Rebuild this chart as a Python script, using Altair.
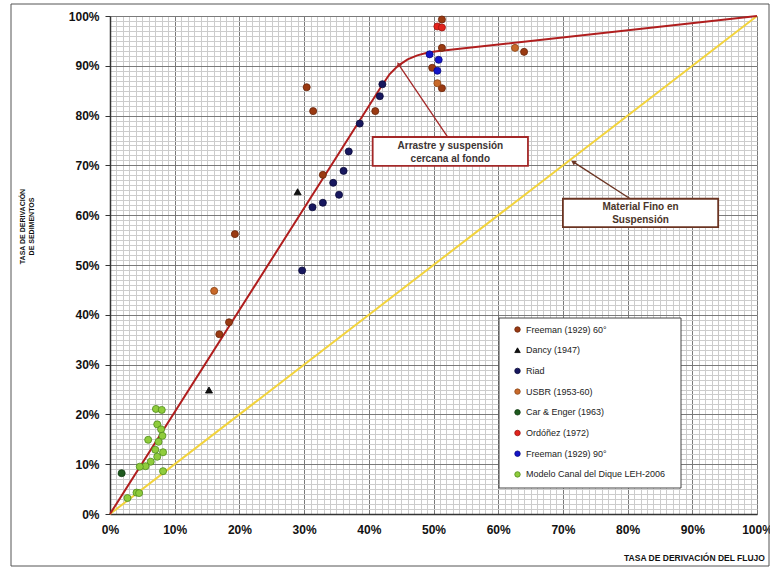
import math
import altair as alt
import pandas as pd

FONT = "Liberation Sans"

# ---- observed diversions (% of flow diverted, % of sediment diverted) ----
series_names = [
    "Freeman (1929) 60°",
    "Dancy (1947)",
    "Riad",
    "USBR (1953-60)",
    "Car & Enger (1963)",
    "Ordóñez (1972)",
    "Freeman (1929) 90°",
    "Modelo Canal del Dique LEH-2006",
]
series_fill = ["#9a3a12", "#111111", "#17175e", "#c8692a", "#1e5a1e", "#e2231c", "#1414c8", "#8fcc3c"]
series_stroke = ["#6a250a", "#000000", "#0a0a38", "#8a4516", "#103a10", "#9a1410", "#0a0a80", "#4f8c1c"]
series_shape = ["circle", "triangle-up", "circle", "circle", "circle", "circle", "circle", "circle"]

freeman60_x = [30.4, 32.9, 41.0, 19.3, 18.4, 16.9, 51.3, 51.3, 49.8, 51.3, 64.0, 31.4]
freeman60_y = [85.7, 68.1, 80.9, 56.2, 38.5, 36.1, 99.3, 93.6, 89.6, 85.5, 92.8, 80.9]
dancy_x = [15.3, 29.0]
dancy_y = [24.9, 64.7]
riad_x = [42.1, 41.7, 38.6, 36.9, 36.1, 34.5, 35.4, 32.9, 31.3, 29.7]
riad_y = [86.3, 83.9, 78.4, 72.8, 68.9, 66.5, 64.1, 62.5, 61.6, 48.9]
usbr_x = [16.1, 50.6, 62.6]
usbr_y = [44.8, 86.5, 93.6]
car_enger_x = [1.8]
car_enger_y = [8.2]
ordonez_x = [50.6, 51.3]
ordonez_y = [97.9, 97.7]
freeman90_x = [49.4, 50.8, 50.6]
freeman90_y = [92.3, 91.2, 89.0]
modelo_x = [7.1, 8.0, 7.3, 7.9, 8.1, 5.9, 7.5, 7.0, 8.2, 7.3, 6.3, 5.5, 4.6, 8.2, 4.1, 4.5, 2.7]
modelo_y = [21.1, 20.9, 18.0, 17.0, 15.7, 14.9, 14.5, 12.9, 12.4, 11.5, 10.5, 9.6, 9.5, 8.6, 4.3, 4.2, 3.2]

# ---- fitted curve (bed load + near-bed suspension) and 1:1 line (fine material) ----
curve_x = [0, 42.0, 43.2, 44.5, 46.0, 47.5, 49.0, 50.5, 100]
curve_y = [0, 86.0, 88.3, 90.0, 91.3, 92.1, 92.6, 92.9, 100]
fine_x = [0, 100]
fine_y = [0, 100]

# ---- annotation boxes ----
notes_text = ["Arrastre y suspensión\ncercana al fondo", "Material Fino en\nSuspensión"]
notes_cx = [52.6, 82.0]
notes_cy = [73.9, 61.6]   # first text line
notes_x1 = [40.6, 70.0]
notes_x2 = [64.6, 94.0]
notes_y1 = [69.9, 57.6]
notes_y2 = [75.7, 63.3]
notes_color = ["#a32828", "#6b3422"]
notes_text_color = ["#3c3434", "#4a3428"]
arrow_start_x = [52.2, 80.4]
arrow_start_y = [75.7, 63.3]
arrow_tip_x = [44.6, 71.6]
arrow_tip_y = [90.3, 70.7]

W, H = 647, 498

rows = []
for name, xs_, ys_ in zip(
    series_names,
    [freeman60_x, dancy_x, riad_x, usbr_x, car_enger_x, ordonez_x, freeman90_x, modelo_x],
    [freeman60_y, dancy_y, riad_y, usbr_y, car_enger_y, ordonez_y, freeman90_y, modelo_y],
):
    for a, b in zip(xs_, ys_):
        rows.append({"serie": name, "x": a, "y": b})
points_df = pd.DataFrame(rows)

curve_df = pd.DataFrame({"x": curve_x, "y": curve_y})
fine_df = pd.DataFrame({"x": fine_x, "y": fine_y})

angles = []
for sx, sy, tx, ty in zip(arrow_start_x, arrow_start_y, arrow_tip_x, arrow_tip_y):
    dxp = (tx - sx) * W / 100.0
    dyp = -(ty - sy) * H / 100.0
    angles.append(math.degrees(math.atan2(dxp, -dyp)) % 360)

notes_df = pd.DataFrame({
    "text": notes_text, "cx": notes_cx, "cy": notes_cy,
    "x1": notes_x1, "x2": notes_x2, "y1": notes_y1, "y2": notes_y2,
    "color": notes_color, "tcolor": notes_text_color,
    "sx": arrow_start_x, "sy": arrow_start_y, "tx": arrow_tip_x, "ty": arrow_tip_y,
    "angle": angles,
})

xscale = alt.Scale(domain=[0, 100], nice=False, zero=False)
yscale = alt.Scale(domain=[0, 100], nice=False, zero=False)
minor_vals = list(range(0, 101))
major_vals = list(range(0, 101, 10))

# 1:1 line, carrying the fine 1 % grid
fine_line = alt.Chart(fine_df).mark_line(color="#f2d33c", strokeWidth=2).encode(
    x=alt.X("x:Q", scale=xscale, axis=alt.Axis(
        orient="bottom", values=minor_vals, grid=True, gridColor="#cccccc", gridWidth=1,
        labels=False, ticks=False, domain=False, title=None)),
    y=alt.Y("y:Q", scale=yscale, axis=alt.Axis(
        orient="left", values=minor_vals, grid=True, gridColor="#cccccc", gridWidth=1,
        labels=False, ticks=False, domain=False, title=None)),
)

# fitted curve, carrying the 10 % grid, labels and titles
curve = alt.Chart(curve_df).mark_line(color="#b01e1e", strokeWidth=2).encode(
    x=alt.X("x:Q", scale=xscale, axis=alt.Axis(
        orient="bottom", values=major_vals, grid=True, gridColor="#7a7a7a", gridWidth=1,
        labelExpr="datum.value + '%'", labelFont=FONT, labelFontSize=12, labelFontWeight="bold",
        labelColor="#111111", labelFlush=False, labelPadding=10, ticks=False,
        domainColor="#333333", domainWidth=1.5,
        title="TASA DE DERIVACIÓN DEL FLUJO", titleFont=FONT, titleFontSize=8.5,
        titleFontWeight="bold", titleColor="#111111", titleX=584, titleY=43,
        titleAlign="center", titleBaseline="middle")),
    y=alt.Y("y:Q", scale=yscale, axis=alt.Axis(
        orient="left", values=major_vals, grid=True, gridColor="#7a7a7a", gridWidth=1,
        labelExpr="datum.value + '%'", labelFont=FONT, labelFontSize=12, labelFontWeight="bold",
        labelColor="#111111", labelPadding=6, ticks=True, tickSize=5, tickColor="#333333",
        domainColor="#333333", domainWidth=1.5,
        title=["TASA DE DERIVACIÓN", "DE SEDIMENTOS"], titleFont=FONT, titleFontSize=7,
        titleFontWeight="bold", titleColor="#111111", titleAngle=270, titleX=-92, titleY=210,
        titleAlign="center", titleBaseline="top", titleLineHeight=9)),
)

legend_kw = dict(
    title=None, orient="none", legendX=403, legendY=309, padding=0,
    labelFont=FONT, labelFontSize=9, labelColor="#222222", labelOffset=4,
    symbolSize=30, symbolStrokeWidth=0.8, rowPadding=10.7,
)

points = alt.Chart(points_df).mark_point(filled=True, size=50, strokeWidth=0.8, opacity=1).encode(
    x=alt.X("x:Q", scale=xscale, axis=None),
    y=alt.Y("y:Q", scale=yscale, axis=None),
    fill=alt.Fill("serie:N", scale=alt.Scale(domain=series_names, range=series_fill),
                  legend=alt.Legend(**legend_kw)),
    stroke=alt.Stroke("serie:N", scale=alt.Scale(domain=series_names, range=series_stroke),
                      legend=alt.Legend(**legend_kw)),
    shape=alt.Shape("serie:N", scale=alt.Scale(domain=series_names, range=series_shape),
                    legend=alt.Legend(**legend_kw)),
)

base_notes = alt.Chart(notes_df)
arrows = base_notes.mark_rule(strokeWidth=1.3).encode(
    x=alt.X("sx:Q", scale=xscale, axis=None), y=alt.Y("sy:Q", scale=yscale, axis=None),
    x2="tx:Q", y2="ty:Q", color=alt.Color("color:N", scale=None),
)
heads = base_notes.mark_point(shape="triangle-up", filled=True, size=30, opacity=1).encode(
    x=alt.X("tx:Q", scale=xscale, axis=None), y=alt.Y("ty:Q", scale=yscale, axis=None),
    angle=alt.Angle("angle:Q", scale=None), color=alt.Color("color:N", scale=None),
)
boxes = base_notes.mark_rect(fill="white", strokeWidth=1.8).encode(
    x=alt.X("x1:Q", scale=xscale, axis=None), x2="x2:Q",
    y=alt.Y("y1:Q", scale=yscale, axis=None), y2="y2:Q",
    stroke=alt.Stroke("color:N", scale=None),
)
labels = base_notes.mark_text(font=FONT, fontSize=10, fontWeight="bold", lineBreak="\n",
                              lineHeight=13, baseline="middle", align="center").encode(
    x=alt.X("cx:Q", scale=xscale, axis=None), y=alt.Y("cy:Q", scale=yscale, axis=None),
    text="text:N", color=alt.Color("tcolor:N", scale=None),
)

one = pd.DataFrame({"k": [0]})
legend_box = alt.Chart(one).mark_rect(fill="white", stroke="#444444", strokeWidth=1).encode(
    x=alt.value(389), x2=alt.value(571), y=alt.value(302), y2=alt.value(472),
)
frame = alt.Chart(one).mark_rect(fill=None, stroke="#555555", strokeWidth=1).encode(
    x=alt.value(-99), x2=alt.value(659), y=alt.value(-12), y2=alt.value(550),
)

chart = alt.layer(
    fine_line, curve, points, arrows, heads, boxes, labels, legend_box, frame
).resolve_axis(
    x="independent", y="independent"
).properties(
    width=W, height=H,
    padding={"left": 110, "top": 16, "right": 13, "bottom": 53},
    autosize=alt.AutoSizeParams(type="none"),
    background="white",
).configure_view(stroke=None)

chart.save("out.html", embed_options={"renderer": "svg", "actions": False})
